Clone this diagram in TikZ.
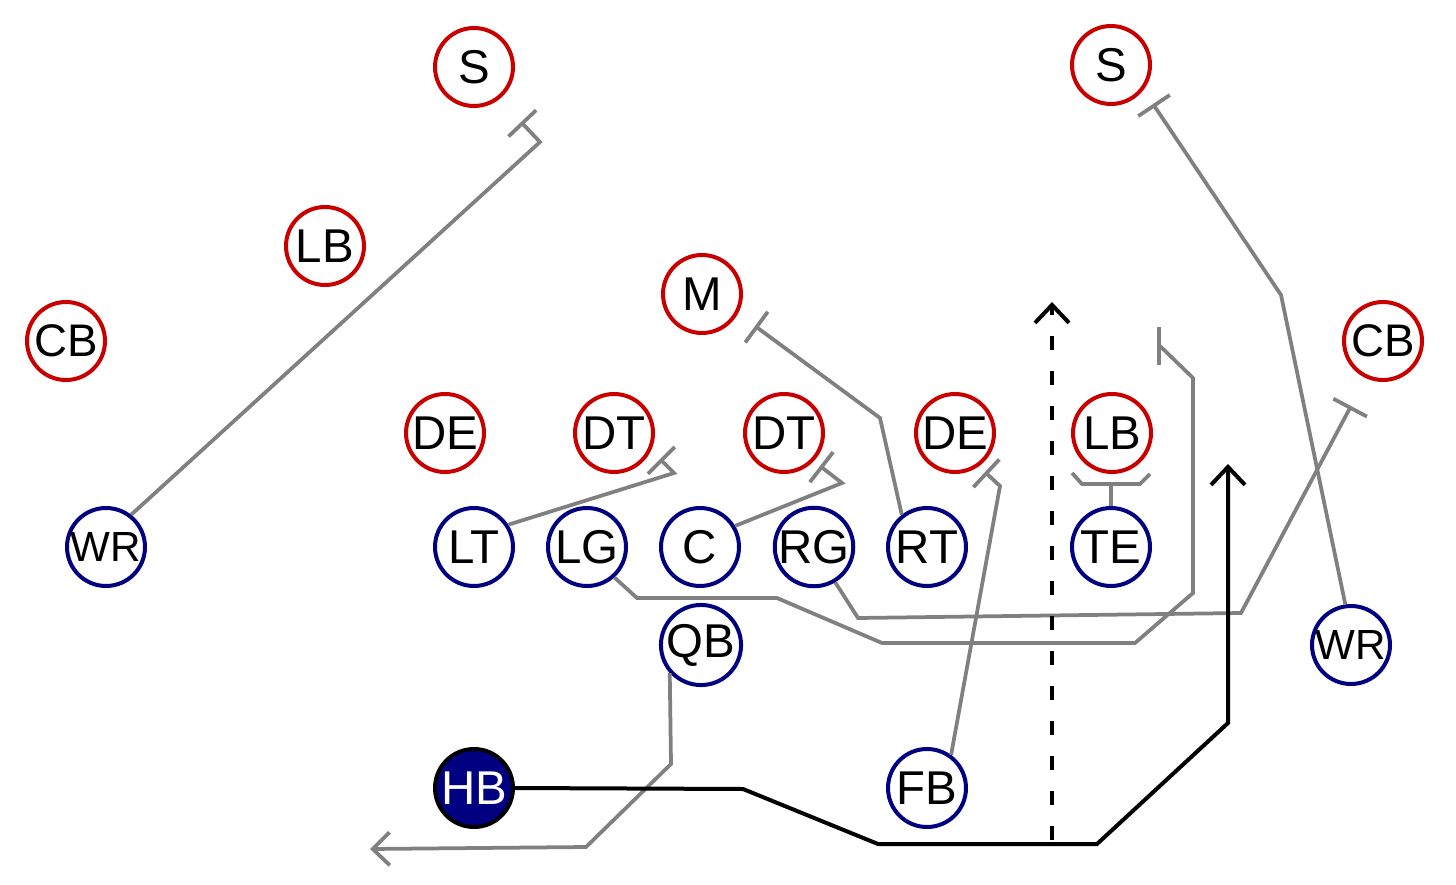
\documentclass[tikz,border=0pt]{standalone}
\usepackage{fontspec}
\setmainfont{Liberation Sans}
\usetikzlibrary{arrows.meta}

\definecolor{defred}{RGB}{200,0,0}
\definecolor{offblue}{RGB}{0,0,128}
\definecolor{routegray}{RGB}{128,128,128}

\begin{document}
\begin{tikzpicture}[x=0.02cm,y=-0.02cm,
        player/.style={circle,draw,line width=0.08cm,minimum size=1.56cm,inner sep=0pt,
            font=\fontsize{27}{27}\selectfont},
        def/.style={player,draw=defred},
        off/.style={player,draw=offblue},
        ball/.style={player,draw=black,fill=offblue,text=white},
        cbfont/.style={font=\fontsize{26}{26}\selectfont},
        wrfont/.style={font=\fontsize{24}{24}\selectfont},
        route/.style={draw=routegray,line width=0.075cm},
        block/.style={route,-{Bar[width=0.76cm]}},
        run/.style={draw=black,line width=0.08cm,-{Straight Barb[length=0.36cm,width=0.68cm]}}]
    \useasboundingbox (0,0) rectangle (1456,885);

    \node [def] (sL) at (474,67) {S};
    \node [def] (sR) at (1111,65) {S};
    \node [def] (lbL) at (325,246) {LB};
    \node [def,cbfont] (cbL) at (66,341) {CB};
    \node [def] (m) at (702,294) {M};
    \node [def,cbfont] (cbR) at (1383,341) {CB};
    \node [def] (deL) at (445,433) {DE};
    \node [def] (dtL) at (614,433) {DT};
    \node [def] (dtR) at (784,433) {DT};
    \node [def] (deR) at (955,433) {DE};
    \node [def] (lbR) at (1112,433) {LB};

    \node [off,wrfont] (wrL) at (106,547) {WR};
    \node [off] (lt) at (474,547) {LT};
    \node [off] (lg) at (587,547) {LG};
    \node [off] (c) at (700,547) {C};
    \node [off] (rg) at (814,547) {RG};
    \node [off] (rt) at (927,547) {RT};
    \node [off] (te) at (1111,547) {TE};
    \node [off] (qb) at (701,645) {QB};
    \node [off,wrfont] (wrR) at (1351,645) {WR};
    \node [ball] (hb) at (474,788) {HB};
    \node [off] (fb) at (927,788) {FB};

    \coordinate (lane) at (1052,840);
    \coordinate (laneEnd) at (1052,302);

    \draw [block] (wrL.52) -- (540,142) -- (521,122);
    \draw [block] (lt.33) -- (674,473) -- (660,459);
    \draw [block] (c.31) -- (842,483) -- (820,466);
    \draw [block] (rt.128) -- (880,418) -- (755,326);
    \draw [block] (fb.54) -- (1000,486) -- (985,472);
    \draw [block] (lg.-48) -- (637,598) -- (777,598) -- (882,643) -- (1135,643)
        -- (1193,593) -- (1193,378) -- (1160,346) -- (1157,346);
    \draw [block] (rg.-59) -- (858,618) -- (1241,613) -- (1351,406);
    \draw [block] (wrR.98) -- (1281,295) -- (1153,104);
    \draw [route] (te.north) -- (1111,484);
    \draw [route] (1072,473) -- (1082,484) -- (1140,484) -- (1150,474);
    \draw [route,-{Straight Barb[length=0.34cm,width=0.66cm]}] (qb.-138) -- (671,764) -- (586,847) -- (370,849);

    \draw [run] (hb.east) -- (743,789) -- (878,844) -- (1097,844) -- (1228,723) -- (1228,464);
    \draw [run,dash pattern=on 0.28cm off 0.42cm] (lane) -- (laneEnd);
\end{tikzpicture}
\end{document}
